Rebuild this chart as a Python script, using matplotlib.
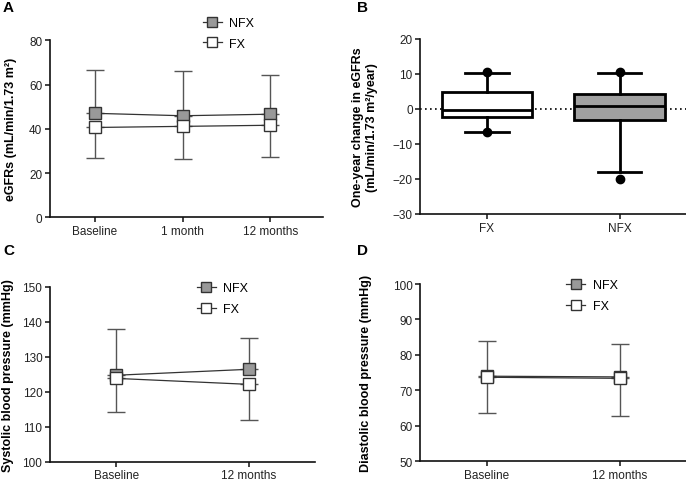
import matplotlib
matplotlib.use("Agg")
import matplotlib.pyplot as plt
from matplotlib.lines import Line2D

plt.rcParams['font.family'] = ['Liberation Sans', 'DejaVu Sans']
plt.rcParams['axes.unicode_minus'] = True

# ---- data ----
# panel A: eGFR over time
a_times = ["Baseline", "1 month", "12 months"]
a_nfx_mean = [47.0, 45.9, 46.6]
a_fx_mean = [40.6, 41.1, 41.6]
a_nfx_upper = [66.4, 66.3, 64.5]
a_fx_lower = [26.6, 26.4, 27.2]

# panel B: one-year change in eGFR (box plot)
b_groups = ["FX", "NFX"]
b_q1 = [-2.4, -3.1]
b_median = [-0.4, 0.9]
b_q3 = [4.9, 4.2]
b_whislo = [-6.5, -18.0]
b_whishi = [10.3, 10.3]
b_fliers = [[10.6, -6.7], [10.6, -20.0]]

# panel C: systolic blood pressure
c_times = ["Baseline", "12 months"]
c_nfx_mean = [124.7, 126.4]
c_fx_mean = [123.8, 122.1]
c_nfx_upper = [137.9, 135.4]
c_fx_lower = [114.1, 111.8]

# panel D: diastolic blood pressure
d_times = ["Baseline", "12 months"]
d_nfx_mean = [74.0, 73.8]
d_fx_mean = [73.7, 73.4]
d_nfx_upper = [83.8, 83.0]
d_fx_lower = [63.5, 62.8]

W, H = 686, 485
fig = plt.figure(figsize=(W / 100, H / 100), dpi=100)


def px_axes(left, top, right, bottom):
    return fig.add_axes([left / W, 1 - bottom / H, (right - left) / W, (bottom - top) / H])


def style_axes(ax):
    for s in ['top', 'right']:
        ax.spines[s].set_visible(False)
    for s in ['left', 'bottom']:
        ax.spines[s].set_linewidth(1.2)
        ax.spines[s].set_color('#111111')
    ax.tick_params(direction='out', length=3.5, width=1.2, labelsize=8.5,
                   colors='#222222', pad=2)


NFX_FILL = '#999999'
ERR_COL = '#555555'
MS = 8


def line_panel(ax, times, nfx_mean, fx_mean, nfx_up, fx_lo, ylim, yticks, ylabel,
               leg_anchor, labelpad):
    x = list(range(len(times)))
    nfx_err = [[0] * len(x), [u - m for u, m in zip(nfx_up, nfx_mean)]]
    fx_err = [[m - l for m, l in zip(fx_mean, fx_lo)], [0] * len(x)]
    ax.errorbar(x, nfx_mean, yerr=nfx_err, fmt='none', ecolor=ERR_COL,
                elinewidth=1.0, capsize=6.5, capthick=1.0, zorder=2)
    ax.errorbar(x, fx_mean, yerr=fx_err, fmt='none', ecolor=ERR_COL,
                elinewidth=1.0, capsize=6.5, capthick=1.0, zorder=2)
    ax.plot(x, nfx_mean, '-', color='#333333', lw=0.9, marker='s', ms=MS,
            mfc=NFX_FILL, mec='#333333', mew=1.0, zorder=3)
    ax.plot(x, fx_mean, '-', color='#333333', lw=0.9, marker='s', ms=MS,
            mfc='white', mec='#333333', mew=1.0, zorder=4)
    ax.set_xlim(-0.5, len(x) - 0.5)
    ax.set_ylim(*ylim)
    ax.set_yticks(yticks)
    ax.set_xticks(x)
    ax.set_xticklabels(times)
    ax.set_ylabel(ylabel, fontsize=9, fontweight='bold', labelpad=labelpad)
    style_axes(ax)
    handles = [
        Line2D([], [], color='#333333', lw=0.9, marker='s', ms=7, mfc=NFX_FILL,
               mec='#333333'),
        Line2D([], [], color='#333333', lw=0.9, marker='s', ms=7, mfc='white',
               mec='#333333'),
    ]
    ax.legend(handles, ['NFX', 'FX'], loc='upper left', bbox_to_anchor=leg_anchor,
              frameon=False, fontsize=9, handlelength=1.5, handletextpad=0.6,
              labelspacing=0.7, borderpad=0, borderaxespad=0)


# ---- panel A ----
axA = px_axes(50, 41.3, 323, 218.3)
line_panel(axA, a_times, a_nfx_mean, a_fx_mean, a_nfx_upper, a_fx_lower,
           (0, 80), [0, 20, 40, 60, 80], 'eGFRs (mL/min/1.73 m²)',
           (0.56, 1.131), 8.5)
axA.set_xlim(-0.51, 2.6)

# ---- panel B ----
axB = px_axes(420.3, 40, 686, 215)
stats = []
for i, g in enumerate(b_groups):
    stats.append(dict(label=g, med=b_median[i], q1=b_q1[i], q3=b_q3[i],
                      whislo=b_whislo[i], whishi=b_whishi[i], fliers=b_fliers[i]))
bp = axB.bxp(stats, positions=[0, 1], widths=0.68, capwidths=0.33,
             patch_artist=True, showfliers=True,
             boxprops=dict(linewidth=2.0, edgecolor='black'),
             medianprops=dict(linewidth=2.0, color='black'),
             whiskerprops=dict(linewidth=2.0, color='black'),
             capprops=dict(linewidth=2.0, color='black'),
             flierprops=dict(marker='o', markersize=6, markerfacecolor='black',
                             markeredgecolor='black'))
for patch, fc in zip(bp['boxes'], ['white', '#a0a0a0']):
    patch.set_facecolor(fc)
axB.axhline(0, color='black', lw=1.2, ls=(0, (1, 2)), zorder=0)
axB.set_xlim(-0.5, 1.5)
axB.set_ylim(-30, 20)
axB.set_yticks([-30, -20, -10, 0, 10, 20])
axB.set_ylabel('One-year change in eGFRs\n(mL/min/1.73 m²/year)',
               fontsize=9, fontweight='bold', labelpad=10.5, linespacing=1.25)
style_axes(axB)

# ---- panel C ----
axC = px_axes(50, 287.7, 315, 462.7)
line_panel(axC, c_times, c_nfx_mean, c_fx_mean, c_nfx_upper, c_fx_lower,
           (100, 150), [100, 110, 120, 130, 140, 150], 'Systolic blood pressure (mmHg)',
           (0.554, 1.026), 6)

# ---- panel D ----
axD = px_axes(420.3, 285, 686, 462.3)
line_panel(axD, d_times, d_nfx_mean, d_fx_mean, d_nfx_upper, d_fx_lower,
           (50, 100), [50, 60, 70, 80, 90, 100], 'Diastolic blood pressure (mmHg)',
           (0.55, 1.026), 15)

# panel letters
for lab, x, y in [('A', 3, 1), ('B', 357, 1), ('C', 3, 244), ('D', 357, 244)]:
    fig.text(x / W, 1 - y / H, lab, fontsize=11, fontweight='bold', va='top', ha='left')

fig.savefig('out.png', dpi=100)
